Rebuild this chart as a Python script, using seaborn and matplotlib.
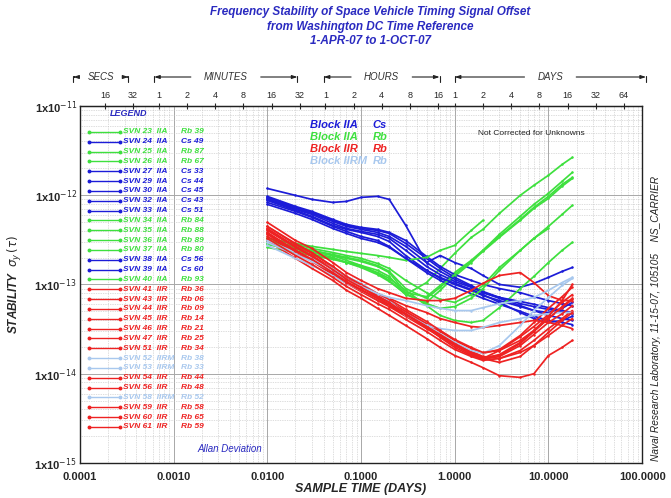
import numpy as np
import pandas as pd
import seaborn as sns
import matplotlib.pyplot as plt
from matplotlib.ticker import NullFormatter
from matplotlib.transforms import blended_transform_factory

nan = np.nan

# sample times (days) shared by every curve
tau_days = [0.01, 0.02, 0.03, 0.05, 0.07, 0.1, 0.15, 0.2, 0.3, 0.5,
            0.7, 1.0, 1.5, 2.0, 3.0, 5.0, 7.0, 10.0, 14.0, 18.0]

# Allan deviation, in units of 1e-13
svn23 = [3.11, 2.67, 2.41, 2.11, 1.86, 1.63, 1.33, 1.11, 0.77, 1.05, 1.51, 2.23, 3.36, 4.14, 6.25, 9.95, 12.9, 16.7, 22.1, 26.5]
svn24 = [11.9, 9.95, 8.97, 8.30, 8.52, 9.45, 9.7, 8.97, 4.59, 1.76, 2.11, 1.76, 1.51, 1.26, 1.00, 0.93, 1.03, 1.20, 1.40, 1.55]
svn25 = [2.88, 2.53, 2.34, 2.11, 1.96, 1.81, 1.59, 1.36, 0.81, 0.73, 0.975, 1.36, 1.86, 2.41, 3.45, 5.35, 7.30, 9.7, 13.2, 15.8]
svn26 = [2.60, 2.28, 2.11, 1.91, 1.76, 1.63, 1.44, 1.23, 0.77, 0.63, 0.86, 1.23, 1.76, 2.41, 3.64, 5.79, 7.89, 10.5, 14.3, 18.0]
svn27 = [9.45, 7.30, 6.41, 5.22, 4.59, 4.24, 4.03, 3.73, 2.88, 1.96, 1.51, 1.20, 0.975, 0.835, 0.715, 0.61, 0.565, 0.525, 0.50, 0.47]
svn29 = [8.97, 6.93, 6.09, 4.83, 4.24, 3.93, 3.64, 3.28, 2.41, 1.59, 1.29, 1.08, 0.93, 0.81, 0.70, 0.58, 0.51, 0.45, 0.415, 0.395]
svn30 = [8.74, 6.75, 5.79, 4.59, 4.14, 3.83, 3.45, 3.03, 2.11, 1.44, 1.17, 1.00, 0.86, 0.75, 0.66, 0.565, 0.51, 0.485, 0.54, 0.63]
svn32 = [8.30, 6.58, 5.64, 4.47, 3.93, 3.45, 3.11, 2.67, 1.96, 1.36, 1.11, 0.93, 0.79, 0.70, 0.60, 0.50, 0.44, 0.395, 0.375, 0.355]
svn33 = [9.7, 7.49, 6.58, 5.35, 4.71, 4.36, 4.14, 3.83, 3.11, 2.06, 1.59, 1.29, 1.11, 1.00, 0.90, 0.81, 0.73, 0.66, 0.61, 0.58]
svn34 = [3.03, 2.60, 2.41, 2.17, 2.01, 1.86, 1.63, 1.40, 0.90, 0.70, 0.93, 1.29, 1.81, 2.34, 3.37, 5.22, 7.11, 9.2, 12.6, 15.4]
svn35 = [3.28, 2.81, 2.53, 2.28, 2.11, 1.96, 1.72, 1.51, 1.11, 0.81, 0.68, 0.63, 0.77, 0.975, 1.55, 2.41, 3.28, 4.24, nan, nan]
svn36 = [2.81, 2.41, 2.17, 1.96, 1.76, 1.59, 1.36, 1.17, 0.86, 0.58, 0.45, 0.395, 0.375, 0.395, 0.55, 0.90, 1.23, 1.76, 2.41, 2.96]
svn37 = [3.28, 2.88, 2.67, 2.47, 2.34, 2.23, 2.11, 2.01, 1.86, 2.01, 2.41, 2.74, 4.03, 5.22, nan, nan, nan, nan, nan, nan]
svn38 = [7.89, 6.25, 5.35, 4.24, 3.73, 3.28, 2.96, 2.60, 1.96, 1.44, 1.20, 1.03, 0.88, 0.77, 0.63, 0.485, 0.415, 0.375, 0.395, 0.44]
svn39 = [9.2, 7.11, 6.25, 5.08, 4.47, 4.14, 3.83, 3.45, 2.67, 1.76, 1.40, 1.14, 0.95, 0.81, 0.715, 0.645, 0.60, 0.55, 0.51, 0.485]
svn40 = [3.03, 2.53, 2.28, 2.01, 1.76, 1.55, 1.29, 1.08, 0.79, 0.61, 0.54, 0.565, 0.70, 0.90, 1.44, 2.41, 3.28, 4.47, 6.09, 7.69]
svn41 = [4.96, 3.11, 2.53, 1.76, 1.36, 1.11, 0.90, 0.81, 0.70, 0.66, 0.66, 0.70, 0.86, 1.03, 1.26, 1.36, 1.05, 0.75, 0.66, 0.66]
svn43 = [4.47, 2.88, 2.28, 1.59, 1.23, 1.00, 0.79, 0.70, 0.58, 0.485, 0.415, 0.375, 0.338, 0.33, 0.347, 0.375, 0.395, 0.375, 0.347, 0.32]
svn44 = [3.11, 1.96, 1.51, 1.11, 0.86, 0.70, 0.54, 0.45, 0.347, 0.248, 0.197, 0.16, 0.134, 0.117, 0.095, 0.091, 0.10, 0.16, 0.197, 0.236]
svn45 = [4.24, 2.67, 2.11, 1.51, 1.17, 0.95, 0.75, 0.645, 0.50, 0.365, 0.297, 0.236, 0.192, 0.169, 0.187, 0.268, 0.375, 0.54, 0.73, 0.93]
svn46 = [3.83, 2.41, 1.91, 1.36, 1.05, 0.86, 0.68, 0.58, 0.45, 0.33, 0.268, 0.213, 0.173, 0.152, 0.16, 0.218, 0.297, 0.415, 0.55, 0.68]
svn47 = [3.45, 2.28, 1.81, 1.29, 1.03, 0.835, 0.66, 0.565, 0.44, 0.32, 0.26, 0.207, 0.164, 0.148, 0.182, 0.26, 0.338, 0.46, 0.63, 0.77]
svn51 = [4.03, 2.60, 2.06, 1.47, 1.14, 0.93, 0.73, 0.63, 0.485, 0.347, 0.275, 0.218, 0.178, 0.156, 0.148, 0.182, 0.236, 0.32, 0.415, 0.51]
svn52 = [2.74, 1.96, 1.63, 1.26, 1.03, 0.86, 0.70, 0.61, 0.47, 0.347, 0.28, 0.224, 0.182, 0.169, 0.207, 0.347, 0.51, 0.715, 0.975, 1.17]
svn53 = [3.11, 2.28, 1.96, 1.51, 1.23, 1.03, 0.79, 0.66, 0.45, 0.347, 0.32, 0.305, 0.305, 0.33, 0.375, 0.415, 0.45, 0.47, 0.485, 0.485]
svn54 = [3.64, 2.34, 1.86, 1.33, 1.05, 0.86, 0.70, 0.60, 0.46, 0.338, 0.275, 0.218, 0.173, 0.148, 0.134, 0.156, 0.207, 0.29, 0.395, 0.485]
svn56 = [4.47, 2.81, 2.23, 1.59, 1.23, 1.00, 0.79, 0.68, 0.525, 0.385, 0.305, 0.242, 0.197, 0.173, 0.182, 0.236, 0.305, 0.415, 0.565, 0.70]
svn58 = [2.96, 2.17, 1.81, 1.40, 1.14, 0.95, 0.79, 0.715, 0.66, 0.58, 0.54, 0.51, 0.51, 0.55, 0.61, 0.66, 0.715, 0.86, 1.05, 1.20]
svn59 = [3.28, 2.11, 1.68, 1.20, 0.95, 0.77, 0.61, 0.525, 0.405, 0.297, 0.236, 0.187, 0.156, 0.141, 0.148, 0.173, 0.207, 0.268, 0.347, 0.415]
svn60 = [4.14, 2.60, 2.06, 1.47, 1.14, 0.93, 0.73, 0.63, 0.47, 0.338, 0.268, 0.213, 0.169, 0.148, 0.164, 0.224, 0.305, 0.44, 0.66, 1.00]
svn61 = [3.73, 2.41, 1.91, 1.36, 1.08, 0.88, 0.70, 0.60, 0.46, 0.33, 0.255, 0.197, 0.16, 0.145, 0.156, 0.207, 0.275, 0.375, 0.47, 0.58]

curves = [svn23, svn24, svn25, svn26, svn27, svn29, svn30, svn32, svn33, svn34,
          svn35, svn36, svn37, svn38, svn39, svn40, svn41, svn43, svn44, svn45,
          svn46, svn47, svn51, svn52, svn53, svn54, svn56, svn58, svn59, svn60, svn61]

# legend entries
svn_ids = ['23', '24', '25', '26', '27', '29', '30', '32', '33', '34', '35', '36', '37', '38', '39', '40',
           '41', '43', '44', '45', '46', '47', '51', '52', '53', '54', '56', '58', '59', '60', '61']
blocks = ['IIA'] * 16 + ['IIR'] * 7 + ['IIRM'] * 2 + ['IIR'] * 2 + ['IIRM'] + ['IIR'] * 3
clocks = ['Rb 39', 'Cs 49', 'Rb 87', 'Rb 67', 'Cs 33', 'Cs 44', 'Cs 45', 'Cs 43', 'Cs 51', 'Rb 84',
          'Rb 88', 'Rb 89', 'Rb 80', 'Cs 56', 'Cs 60', 'Rb 93', 'Rb 36', 'Rb 06', 'Rb 09', 'Rb 14',
          'Rb 21', 'Rb 25', 'Rb 34', 'Rb 38', 'Rb 33', 'Rb 44', 'Rb 48', 'Rb 52', 'Rb 58', 'Rb 65', 'Rb 59']

# top axis: sample time in natural units
top_secs = [16, 32]
top_mins = [1, 2, 4, 8, 16, 32]
top_hours = [1, 2, 4, 8, 16]
top_days = [1, 2, 4, 8, 16, 32, 64]

group_labels = [('Block IIA', 'Cs'), ('Block IIA', 'Rb'), ('Block IIR', 'Rb'), ('Block IIRM', 'Rb')]

blue = '#1c1cd8'
green = '#3ee03e'
red = '#ee2222'
lblue = '#a8c8ee'
navy = '#2a2ac0'
group_colors = [blue, green, red, lblue]


def color_for(blk, clk):
    if blk == 'IIA':
        return blue if clk.startswith('Cs') else green
    return red if blk == 'IIR' else lblue


pal = {s: color_for(b, c) for s, b, c in zip(svn_ids, blocks, clocks)}

rows = []
for sid, vals in zip(svn_ids, curves):
    for t, v in zip(tau_days, vals):
        rows.append((sid, t, v * 1e-13))
df = pd.DataFrame(rows, columns=['svn', 'tau', 'sigma']).dropna()

sns.set_style('white')
plt.rcParams['font.family'] = ['Liberation Sans', 'DejaVu Sans']

fig = plt.figure(figsize=(6.71, 4.98), dpi=100)
ax = fig.add_axes([0.119, 0.0703, 0.838, 0.717])

sns.lineplot(data=df, x='tau', y='sigma', hue='svn', palette=pal, estimator=None,
             sort=False, legend=False, lw=1.25, marker='o', markersize=1.8,
             markeredgewidth=0, ax=ax)

ax.set_xscale('log')
ax.set_yscale('log')
ax.set_xlim(1e-4, 100)
ax.set_ylim(1e-15, 1e-11)

ax.set_xticks([1e-4, 1e-3, 1e-2, 1e-1, 1, 10, 100],
              ['0.0001', '0.0010', '0.0100', '0.1000', '1.0000', '10.0000', '100.0000'])
ax.set_yticks([1e-15, 1e-14, 1e-13, 1e-12, 1e-11],
              [r'1x10$^{-15}$', r'1x10$^{-14}$', r'1x10$^{-13}$', r'1x10$^{-12}$', r'1x10$^{-11}$'])
ax.xaxis.set_minor_formatter(NullFormatter())
ax.yaxis.set_minor_formatter(NullFormatter())
for lab in ax.get_xticklabels() + ax.get_yticklabels():
    lab.set_fontweight('bold')
    lab.set_fontsize(8)
ax.tick_params(which='major', direction='in', length=3, pad=2)
ax.tick_params(axis='x', which='major', pad=6.5)
ax.tick_params(which='minor', length=0)

ax.grid(which='major', color='#a8a8a8', lw=0.7, ls='-')
ax.grid(which='minor', color='#bdbdbd', lw=0.5, ls=(0, (1, 1.5)))
for sp in ax.spines.values():
    sp.set_color('#222222')
    sp.set_linewidth(1.0)

ax.set_xlabel('SAMPLE TIME (DAYS)', fontsize=9, fontweight='bold', fontstyle='italic')
ax.set_ylabel(r'STABILITY  $\sigma_y\,(\tau)$', fontsize=8.5, fontweight='bold', fontstyle='italic')
ax.xaxis.set_label_coords(0.5, -0.057)
ax.yaxis.set_label_coords(-0.10, 0.5)

# top axis with secs / minutes / hours / days
top_pos = ([s / 86400 for s in top_secs] + [m / 1440 for m in top_mins]
           + [h / 24 for h in top_hours] + top_days)
top_lab = [str(v) for v in top_secs + top_mins + top_hours + top_days]
sec = ax.secondary_xaxis('top')
sec.set_xticks(top_pos, top_lab)
sec.xaxis.set_minor_locator(plt.NullLocator())
sec.tick_params(direction='inout', length=4, labelsize=6.5, pad=2)

trans = blended_transform_factory(ax.transData, ax.transAxes)
spans = [('SECS', 8.5e-5, 3.3e-4), ('MINUTES', 6.2e-4, 0.021),
         ('HOURS', 0.040, 0.69), ('DAYS', 1.0, 110)]
yb = 1.081
for name, lo, hi in spans:
    mid = np.sqrt(lo * hi)
    for end, rel in ((lo, 0), (hi, 1)):
        ax.annotate(name, xy=(end, yb), xycoords=trans, xytext=(mid, yb), textcoords=trans,
                    ha='center', va='center', fontsize=7, fontstyle='italic',
                    color='#333333' if rel == 0 else 'none', annotation_clip=False,
                    arrowprops=dict(arrowstyle='-|>,head_length=0.45,head_width=0.15',
                                    color='#222222', lw=0.8, relpos=(rel, 0.5),
                                    shrinkA=7, shrinkB=0))
        ax.plot([end, end], [yb + 0.004, yb - 0.014], color='#222222', lw=0.8,
                transform=trans, clip_on=False)

# legend block on the left
ax.text(0.053, 0.978, 'LEGEND', transform=ax.transAxes, color=navy, fontsize=6.5,
        fontweight='bold', fontstyle='italic', va='center')
for i, (sid, blk, clk) in enumerate(zip(svn_ids, blocks, clocks)):
    y = 0.927 - i * 0.02753
    c = pal[sid]
    ax.plot([0.016, 0.071], [y, y], color=c, lw=1.0, marker='o', ms=1.8,
            transform=ax.transAxes)
    ax.text(0.0765, y, f'SVN {sid}  {blk}', transform=ax.transAxes, color=c, fontsize=6,
            fontweight='bold', fontstyle='italic', va='center')
    ax.text(0.18, y, clk, transform=ax.transAxes, color=c, fontsize=6,
            fontweight='bold', fontstyle='italic', va='center')

ax.text(0.21, 0.04, 'Allan Deviation', transform=ax.transAxes, color=navy, fontsize=7,
        fontstyle='italic', va='center')

for i, ((blk, clk), c) in enumerate(zip(group_labels, group_colors)):
    y = 0.947 - i * 0.0335
    ax.text(0.409, y, blk, transform=ax.transAxes, color=c, fontsize=8,
            fontweight='bold', fontstyle='italic', va='center')
    ax.text(0.521, y, clk, transform=ax.transAxes, color=c, fontsize=8,
            fontweight='bold', fontstyle='italic', va='center')

ax.text(0.708, 0.922, 'Not Corrected for Unknowns', transform=ax.transAxes, fontsize=6,
        color='#222222', va='center')

fig.text(0.978, 0.36, 'Naval Research Laboratory, 11-15-07, 105105    NS_CARRIER',
         rotation=90, ha='center', va='center', fontsize=7.3, fontstyle='italic', color='#222222')

fig.text(0.552, 0.988, 'Frequency Stability of Space Vehicle Timing Signal Offset\n'
                       'from Washington DC Time Reference\n1-APR-07 to 1-OCT-07',
         ha='center', va='top', fontsize=8.5, fontweight='bold', fontstyle='italic',
         color=navy, linespacing=1.3)

fig.savefig('out.png', dpi=100)
